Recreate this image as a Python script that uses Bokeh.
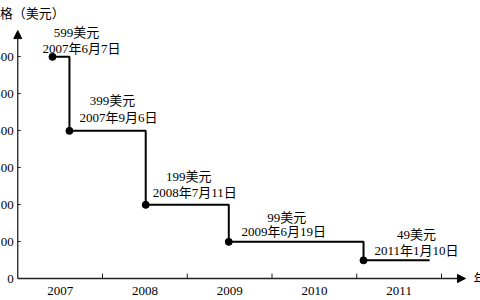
from bokeh.plotting import figure
from bokeh.models import ColumnDataSource, Range1d, Arrow, NormalHead
from bokeh.core.properties import value
from bokeh.embed import file_html
from bokeh.resources import INLINE

# ---------------- data ----------------
prices = [599, 399, 199, 99, 49]
price_labels = ["599美元", "399美元", "199美元", "99美元", "49美元"]
date_labels = ["2007年6月7日", "2007年9月6日", "2008年7月11日", "2009年6月19日", "2011年1月10日"]
# time of each price change, in fractional years
times = [2007.41, 2007.61, 2008.51, 2009.49, 2011.08]
end_time = 2011.86
year_labels = ["2007", "2008", "2009", "2010", "2011"]
year_centers = [2007.5, 2008.5, 2009.5, 2010.5, 2011.5]
year_bounds = [2008, 2009, 2010, 2011, 2012]
y_ticks = [0, 100, 200, 300, 400, 500, 600]
y_tick_labels = ["0", "100", "200", "300", "400", "500", "600"]
y_title = "价格（美元）"
x_title = "年份"

# ---------------- layout constants ----------------
W, H = 480, 300
px_per_year = 84.75
px_per_unit = 0.37
origin_px = (17.25, 278.0)
x0 = 2007.0
x_lo = x0 - origin_px[0] / px_per_year
x_hi = x0 + (W - origin_px[0]) / px_per_year
y_hi = origin_px[1] / px_per_unit
y_lo = -(H - origin_px[1]) / px_per_unit
y_axis_top = 670
x_axis_end = 2012.283

FONT = value("Liberation Serif, Noto Sans CJK SC")
CJK_FONT = value("Noto Sans CJK SC")
FS = value("13px")

p = figure(width=W, height=H, x_range=Range1d(x_lo, x_hi), y_range=Range1d(y_lo, y_hi),
           output_backend="svg", toolbar_location=None, min_border=0,
           x_axis_location=None, y_axis_location=None)
p.outline_line_color = None
p.grid.visible = False
p.background_fill_color = "white"
p.border_fill_color = "white"

# axes with arrows
p.add_layout(Arrow(end=NormalHead(size=8, fill_color="black", line_color="black"),
                   x_start=x0, y_start=0, x_end=x0, y_end=y_axis_top,
                   line_width=1.3, line_color="#222222"))
p.add_layout(Arrow(end=NormalHead(size=8, fill_color="black", line_color="black"),
                   x_start=x0, y_start=0, x_end=x_axis_end, y_end=0,
                   line_width=1.3, line_color="#222222"))

# y ticks (pointing inward) and labels
tick_len_x = 3 / px_per_year
p.segment(x0=[x0] * (len(y_ticks) - 1), y0=y_ticks[1:],
          x1=[x0 + tick_len_x] * (len(y_ticks) - 1), y1=y_ticks[1:],
          line_color="#222222", line_width=1)
p.text(x=[x0] * len(y_ticks), y=y_ticks, text=y_tick_labels, x_offset=-4,
       text_align="right", text_baseline="middle", text_font=FONT,
       text_font_size=FS, text_color="black")

# x ticks (pointing up) and labels
tick_len_y = 5 / px_per_unit
p.segment(x0=year_bounds, y0=[0] * len(year_bounds), x1=year_bounds,
          y1=[tick_len_y] * len(year_bounds), line_color="#222222", line_width=1)
p.text(x=year_centers, y=[0] * len(year_centers), text=year_labels, y_offset=12,
       text_align="center", text_baseline="middle", text_font=FONT,
       text_font_size=FS, text_color="black")

# axis titles
p.text(x=[x0], y=[y_axis_top], text=[y_title], x_offset=-31, y_offset=-18,
       text_align="left", text_baseline="middle", text_font=CJK_FONT,
       text_font_size=FS, text_color="black")
p.text(x=[x_axis_end], y=[0], text=[x_title], x_offset=8, y_offset=-1,
       text_align="left", text_baseline="middle", text_font=CJK_FONT,
       text_font_size=FS, text_color="black")

# step line and points
p.step(x=times + [end_time], y=prices + [prices[-1]], mode="after",
       line_color="black", line_width=2)
p.scatter(x=times, y=prices, size=7, fill_color="black", line_color="black")

# annotations (pixel offsets from each point)
price_dx = [24, 43, 43, 58, 53]
price_dy = [-24, -30, -28, -24, -26]
date_dx = [29, 49, 49, 55, 53]
date_dy = [-8, -13, -12, -10, -10]
src = ColumnDataSource(dict(x=times, y=prices, pl=price_labels, dl=date_labels,
                            pdx=price_dx, pdy=price_dy, ddx=date_dx, ddy=date_dy))
p.text(x="x", y="y", text="pl", x_offset="pdx", y_offset="pdy", source=src,
       text_align="center", text_baseline="middle", text_font=FONT,
       text_font_size=FS, text_color="black")
p.text(x="x", y="y", text="dl", x_offset="ddx", y_offset="ddy", source=src,
       text_align="center", text_baseline="middle", text_font=FONT,
       text_font_size=FS, text_color="black")

open("out.html", "w").write(file_html(p, INLINE))
